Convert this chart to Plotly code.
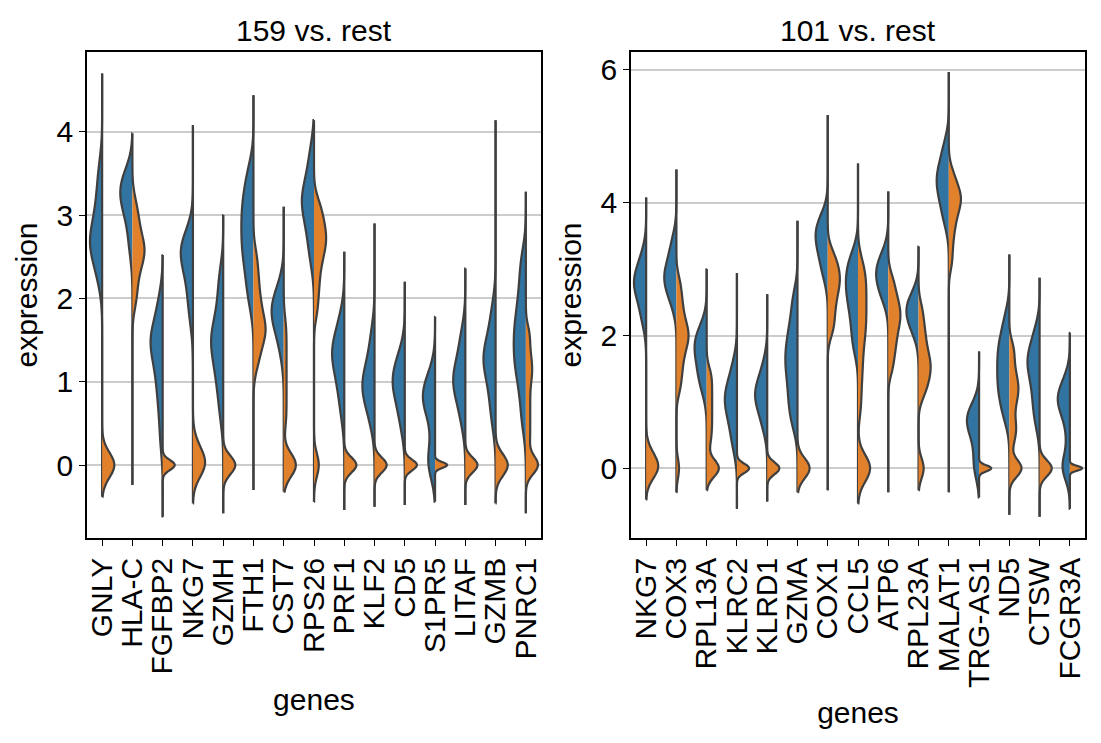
import plotly.graph_objects as go
from plotly.subplots import make_subplots

BLUE = "#3274a1"
ORANGE = "#e1812c"
EDGE = "#3f3f3f"
FONT = "Liberation Sans, Arial, sans-serif"

# ---- 159 vs. rest -------------------------------------------------------
genes_159 = ["GNLY", "HLA-C", "FGFBP2", "NKG7", "GZMH", "FTH1", "CST7", "RPS26",
             "PRF1", "KLF2", "CD5", "S1PR5", "LITAF", "GZMB", "PNRC1"]
# lowest / highest expression reached by each violin
low_159 = [-0.38, -0.24, -0.62, -0.46, -0.58, -0.30, -0.32, -0.44,
           -0.54, -0.50, -0.48, -0.44, -0.48, -0.46, -0.58]
high_159 = [4.70, 3.98, 2.52, 4.08, 3.00, 4.44, 3.10, 4.14,
            2.56, 2.90, 2.20, 1.78, 2.36, 4.14, 3.28]
# expression of cells in group 159 (left halves)
group_159 = [
    [2.2, 2.35, 2.45, 2.55, 2.6, 2.65, 2.7, 2.75, 2.8, 2.9, 3.0, 3.1, 3.25, 3.4, 3.6],
    [2.6, 2.75, 3.0, 3.05, 3.1, 3.2, 3.25, 3.3, 3.35, 3.4, 3.45, 3.5],
    [0.3, 0.6, 0.8, 0.95, 1.1, 1.2, 1.3, 1.4, 1.45, 1.5, 1.55, 1.6, 1.7, 1.85, 2.0],
    [1.75, 1.95, 2.1, 2.25, 2.35, 2.45, 2.5, 2.55, 2.6, 2.65, 2.7, 2.8],
    [0.6, 0.85, 1.0, 1.15, 1.25, 1.35, 1.45, 1.5, 1.55, 1.65, 1.75, 1.9, 2.1, 2.3],
    [1.95, 2.15, 2.3, 2.45, 2.55, 2.65, 2.75, 2.85, 2.95, 3.05, 3.15, 3.25, 3.4, 3.55],
    [1.35, 1.55, 1.65, 1.75, 1.8, 1.85, 1.9, 1.95, 2.05, 2.15],
    [2.45, 2.6, 2.75, 2.85, 2.95, 3.05, 3.1, 3.15, 3.2, 3.25, 3.3, 3.4, 3.5, 3.65, 3.8],
    [0.6, 0.8, 0.95, 1.05, 1.15, 1.25, 1.3, 1.35, 1.4, 1.45, 1.55, 1.65, 1.8],
    [0.5, 0.65, 0.75, 0.85, 0.9, 0.95, 1.0, 1.05, 1.15, 1.25, 1.4, 1.6],
    [0.45, 0.6, 0.75, 0.85, 0.92, 0.98, 1.03, 1.08, 1.15, 1.25, 1.35],
    [0.0, 0.0, 0.05, 0.3, 0.55, 0.7, 0.75, 0.8, 0.85, 0.9, 1.0, 1.1],
    [0.5, 0.65, 0.8, 0.9, 0.95, 1.0, 1.05, 1.1, 1.2, 1.3, 1.45, 1.6],
    [0.5, 0.7, 0.85, 1.0, 1.1, 1.2, 1.25, 1.3, 1.35, 1.45, 1.55, 1.7, 1.9],
    [0.5, 0.75, 0.95, 1.1, 1.2, 1.3, 1.4, 1.5, 1.6, 1.7, 1.8, 1.95, 2.1, 2.3, 2.5],
]
# expression of all other cells (right halves)
rest_159 = [
    [0, 0, 0, 0],
    [1.95, 2.1, 2.25, 2.35, 2.45, 2.5, 2.55, 2.6, 2.65, 2.7, 2.8, 2.9, 3.0, 3.15],
    [0, 0, 0],
    [0, 0, 0, 0.2],
    [0, 0, 0],
    [1.2, 1.35, 1.45, 1.55, 1.6, 1.65, 1.7, 1.8, 1.9, 2.0, 2.15, 2.3, 2.5],
    [0, 0, 0, 0, 0, 0, 0, 0, 0, 0, 0.5, 0.65, 0.8, 0.95, 1.1, 1.25, 1.4, 1.55, 1.7],
    [0, 0, 1.85, 2.05, 2.2, 2.35, 2.45, 2.55, 2.62, 2.68, 2.74, 2.8, 2.88, 2.95, 3.05, 3.15],
    [0, 0, 0],
    [0, 0, 0],
    [0, 0, 0],
    [0, 0, 0],
    [0, 0, 0],
    [0, 0, 0],
    [0, 0, 0, 0, 0, 0.25, 0.4, 0.55, 0.7, 0.85, 1.0, 1.1, 1.2, 1.3, 1.45, 1.6],
]
rest_bw_159 = [0.15, 0.15, 0.06, 0.16, 0.11, 0.15, 0.14, 0.14,
               0.09, 0.09, 0.065, 0.035, 0.09, 0.13, 0.11]

# ---- 101 vs. rest -------------------------------------------------------
genes_101 = ["NKG7", "COX3", "RPL13A", "KLRC2", "KLRD1", "GZMA", "COX1", "CCL5",
             "ATP6", "RPL23A", "MALAT1", "TRG-AS1", "ND5", "CTSW", "FCGR3A"]
low_101 = [-0.47, -0.36, -0.33, -0.61, -0.50, -0.36, -0.33, -0.53,
           -0.36, -0.33, -0.36, -0.44, -0.70, -0.73, -0.61]
high_101 = [4.08, 4.50, 3.00, 2.94, 2.62, 3.73, 5.32, 4.59,
            4.17, 3.34, 5.97, 1.76, 3.22, 2.87, 2.04]
group_101 = [
    [2.2, 2.35, 2.5, 2.6, 2.7, 2.75, 2.8, 2.85, 2.9, 3.0, 3.1, 3.25],
    [2.45, 2.6, 2.7, 2.78, 2.85, 2.9, 2.95, 3.05, 3.15, 3.3, 3.45],
    [1.15, 1.3, 1.4, 1.5, 1.6, 1.7, 1.78, 1.84, 1.9, 1.96, 2.05, 2.15],
    [0.3, 0.5, 0.65, 0.78, 0.88, 0.96, 1.04, 1.1, 1.18, 1.28, 1.4, 1.6],
    [0.6, 0.75, 0.88, 0.98, 1.05, 1.1, 1.15, 1.22, 1.3, 1.42, 1.6],
    [0.65, 0.85, 1.0, 1.15, 1.3, 1.42, 1.55, 1.65, 1.75, 1.88, 2.0, 2.15, 2.35, 2.6],
    [2.9, 3.05, 3.2, 3.3, 3.4, 3.48, 3.55, 3.62, 3.7, 3.8],
    [1.8, 2.0, 2.2, 2.35, 2.5, 2.6, 2.7, 2.8, 2.9, 3.0, 3.1, 3.25],
    [2.55, 2.65, 2.75, 2.85, 2.92, 2.98, 3.05, 3.12, 3.25],
    [2.05, 2.15, 2.25, 2.33, 2.4, 2.45, 2.52, 2.6],
    [3.7, 3.85, 4.0, 4.1, 4.2, 4.28, 4.35, 4.42, 4.5, 4.6, 4.75, 4.9],
    [0, 0, 0.25, 0.45, 0.55, 0.65, 0.7, 0.75, 0.8, 0.85, 0.95],
    [0.75, 0.9, 1.05, 1.15, 1.25, 1.35, 1.45, 1.55, 1.65, 1.75, 1.85, 1.95, 2.1, 2.3],
    [0.65, 0.85, 1.0, 1.15, 1.3, 1.4, 1.5, 1.58, 1.65, 1.72, 1.8, 1.95, 2.1],
    [0, 0, 0.05, 0.45, 0.75, 0.9, 0.98, 1.05, 1.1, 1.2, 1.35],
]
rest_101 = [
    [0, 0, 0, 0.2],
    [0, 1.2, 1.4, 1.55, 1.7, 1.8, 1.9, 1.97, 2.03, 2.1, 2.2, 2.3, 2.45, 2.6, 2.8],
    [0, 0, 0, 0, 0, 0, 0.35, 0.5, 0.62, 0.74, 0.86, 0.98, 1.1, 1.22, 1.34, 1.46],
    [0, 0, 0],
    [0, 0, 0],
    [0, 0, 0],
    [2.05, 2.2, 2.35, 2.48, 2.6, 2.7, 2.78, 2.86, 2.94, 3.02, 3.12, 3.25],
    [0, 0, 0, 0, 0, 0, 0.9, 1.2, 1.45, 1.65, 1.85, 2.0, 2.12, 2.24, 2.36, 2.48,
     2.6, 2.72, 2.84, 2.96, 3.1],
    [1.5, 1.7, 1.85, 1.98, 2.1, 2.2, 2.28, 2.36, 2.45, 2.55, 2.68, 2.85],
    [0, 0, 1.1, 1.22, 1.32, 1.4, 1.48, 1.55, 1.62, 1.7, 1.8, 1.92, 2.05, 2.2, 2.4],
    [3.1, 3.35, 3.55, 3.7, 3.82, 3.92, 4.0, 4.06, 4.12, 4.2, 4.3, 4.45],
    [0, 0, 0],
    [0, 0, 0, 0, 0, 0.35, 0.5, 0.6, 0.7, 0.85, 0.98, 1.08, 1.16, 1.24, 1.32,
     1.42, 1.55, 1.7, 1.85],
    [0, 0, 0],
    [0, 0, 0],
]
rest_bw_101 = [0.17, 0.15, 0.13, 0.07, 0.09, 0.15, 0.15, 0.2,
               0.15, 0.15, 0.15, 0.045, 0.13, 0.12, 0.035]

GROUP_BW = 0.2


def add_panel(fig, col, genes, low, high, group, rest, rest_bw):
    for i, gene in enumerate(genes):
        halves = [("negative", group[i], GROUP_BW, BLUE),
                  ("positive", rest[i], rest_bw[i], ORANGE)]
        for side, vals, bw, color in halves:
            fig.add_trace(go.Violin(
                x=[gene] * len(vals), y=vals, side=side,
                bandwidth=bw, spanmode="manual", span=[low[i], high[i]],
                scalemode="width", scalegroup=f"{col}-{gene}-{side}",
                width=0.8, fillcolor=color, line=dict(color=EDGE, width=2.2),
                points=False, box_visible=False, meanline_visible=False,
                showlegend=False, hoverinfo="skip",
            ), row=1, col=col)


fig = make_subplots(rows=1, cols=2)
add_panel(fig, 1, genes_159, low_159, high_159, group_159, rest_159, rest_bw_159)
add_panel(fig, 2, genes_101, low_101, high_101, group_101, rest_101, rest_bw_101)

axis_common = dict(
    showline=True, mirror=True, linecolor="black", linewidth=1.7,
    ticks="outside", ticklen=6, tickwidth=1.4, tickcolor="black",
    tickfont=dict(size=30, color="black"), zeroline=False,
)
fig.update_xaxes(type="category", range=[-0.5, 14.5], tickangle=-90,
                 showgrid=False, automargin=False,
                 title=dict(text="genes", font=dict(size=30, color="black")),
                 **axis_common)
fig.update_yaxes(showgrid=True, gridcolor="#cccccc", gridwidth=1.5, automargin=False,
                 title=dict(text="expression", font=dict(size=30, color="black"),
                            standoff=10),
                 **axis_common)
fig.update_layout(
    xaxis=dict(domain=[0, 0.4549], categoryorder="array", categoryarray=genes_159,
               tickmode="array", tickvals=genes_159, ticktext=genes_159),
    xaxis2=dict(domain=[0.5451, 1.0], categoryorder="array", categoryarray=genes_101,
                tickmode="array", tickvals=genes_101, ticktext=genes_101),
    yaxis=dict(range=[-0.876, 4.958], dtick=1),
    yaxis2=dict(range=[-1.05, 6.27], dtick=2),
    violinmode="overlay",
    # the page body adds 8px around the figure
    width=1093, height=735,
    margin=dict(l=79, r=16, t=44, b=205),
    plot_bgcolor="white", paper_bgcolor="white",
    font=dict(family=FONT, color="black"),
    annotations=[
        dict(text="159 vs. rest", x=0.2275, y=1, xref="paper", yref="paper",
             xanchor="center", yanchor="bottom", yshift=3, showarrow=False,
             font=dict(size=30)),
        dict(text="101 vs. rest", x=0.7726, y=1, xref="paper", yref="paper",
             xanchor="center", yanchor="bottom", yshift=3, showarrow=False,
             font=dict(size=30)),
    ],
)

fig.write_html("out.html")
